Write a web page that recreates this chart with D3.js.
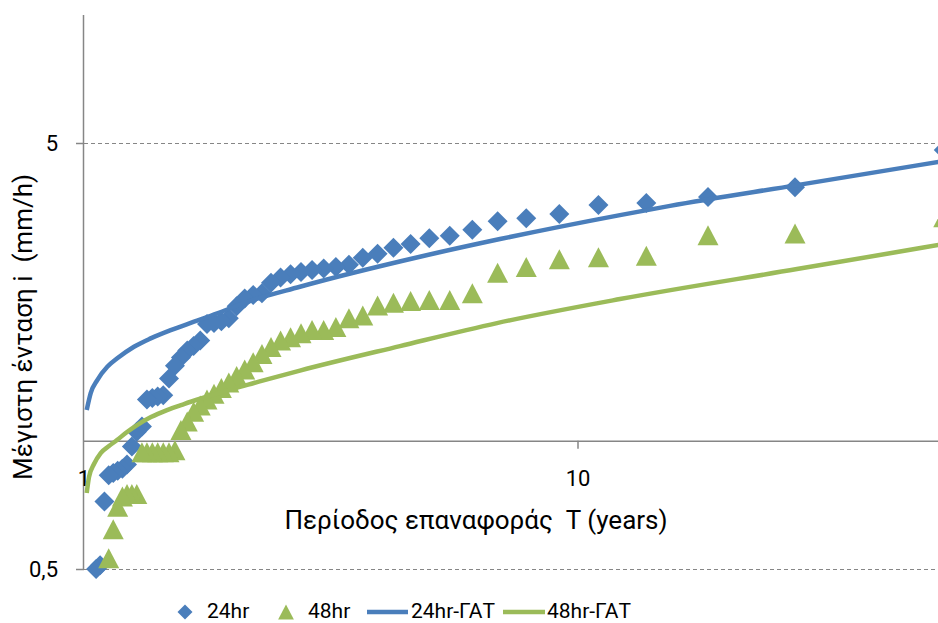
<!DOCTYPE html>
<html>
<head>
<meta charset="utf-8">
<script src="https://cdn.jsdelivr.net/npm/d3@7"></script>
<style>
  html, body { margin: 0; padding: 0; background: #fff; }
  svg { display: block; font-family: Roboto, "Open Sans", "Noto Sans", sans-serif; }
  text { white-space: pre; }
</style>
</head>
<body>
<svg id="chart" width="938" height="623"></svg>
<script>
// Return period T (years) for each rank
const returnPeriods = [55, 27.5, 18.33, 13.75, 11, 9.167, 7.857, 6.875, 6.111, 5.5, 5, 4.583, 4.231,
  3.929, 3.667, 3.438, 3.235, 3.056, 2.895, 2.75, 2.619, 2.5, 2.391, 2.292, 2.2, 2.115, 2.037, 1.964,
  1.897, 1.833, 1.774, 1.719, 1.667, 1.618, 1.571, 1.528, 1.486, 1.447, 1.41, 1.375, 1.341, 1.31,
  1.279, 1.25, 1.222, 1.196, 1.17, 1.146, 1.122, 1.1, 1.078, 1.058];

// Observed max intensity (mm/h)
const i24 = [4.82, 3.94, 3.74, 3.62, 3.58, 3.41, 3.33, 3.28, 3.13, 3.03, 2.99, 2.90, 2.84, 2.75, 2.69,
  2.59, 2.56, 2.54, 2.52, 2.49, 2.46, 2.42, 2.35, 2.22, 2.20, 2.16, 2.07, 1.94, 1.91, 1.89, 1.88, 1.72,
  1.67, 1.63, 1.57, 1.50, 1.40, 1.28, 1.27, 1.26, 1.25, 1.08, 1.05, 0.97, 0.88, 0.86, 0.85, 0.84, 0.83,
  0.72, 0.51, 0.50];
const i48 = [3.35, 3.07, 3.04, 2.72, 2.70, 2.67, 2.56, 2.48, 2.22, 2.14, 2.14, 2.13, 2.11, 2.08, 1.97,
  1.94, 1.85, 1.82, 1.82, 1.79, 1.75, 1.72, 1.66, 1.60, 1.53, 1.47, 1.42, 1.37, 1.33, 1.29, 1.25, 1.21,
  1.17, 1.11, 1.06, 0.95, 0.94, 0.94, 0.94, 0.94, 0.94, 0.94, 0.75, 0.75, 0.75, 0.74, 0.70, 0.62, 0.53];

// Fitted curves (ΓΑΤ)
const gatT24 = [1.0127, 1.0317, 1.0639, 1.1147, 1.1678, 1.2624, 1.3646, 1.4982, 1.67, 1.861, 2.108,
  2.736, 4.787, 6.952, 12.16, 15.36, 27.75, 55];
const gat24 = [1.181, 1.295, 1.389, 1.492, 1.562, 1.663, 1.740, 1.820, 1.904, 1.992, 2.107,
  2.300, 2.705, 2.977, 3.389, 3.563, 3.986, 4.54];
const gatT48 = [1.0127, 1.0236, 1.0477, 1.0809, 1.1235, 1.1662, 1.2221, 1.2805, 1.3665, 1.4725, 1.5939,
  1.7251, 1.8588, 2.0123, 2.2085, 2.736, 4.362, 6.856, 12.16, 27.75, 55];
const gat48 = [0.754, 0.822, 0.882, 0.936, 0.972, 1.004, 1.049, 1.089, 1.137, 1.181, 1.220,
  1.257, 1.291, 1.327, 1.367, 1.462, 1.669, 1.890, 2.152, 2.531, 2.897];

const xTicks = [1, 10];
const xTickLabels = ["1", "10"];
const yTicks = [0.5, 5];
const yTickLabels = ["0,5", "5"];
const legendLabels = ["24hr", "48hr", "24hr-ΓΑΤ", "48hr-ΓΑΤ"];
const xTitle = "Περίοδος επαναφοράς  T (years)";
const yTitle = "Μέγιστη ένταση i  (mm/h)";

const BLUE = "#4a7ebb", GREEN = "#9bbb59", AXIS = "#868686";

const svg = d3.select("#chart");
const x = d3.scaleLog().domain([1, 100]).range([84, 1072]);
const y = d3.scaleLog().domain([0.5, 10]).range([569, 15]);
const xLeft = 84, xRight = 938;

// gridlines (dashed)
svg.append("g").selectAll("line").data(yTicks).join("line")
  .attr("x1", xLeft).attr("x2", xRight)
  .attr("y1", d => Math.round(y(d)) + 0.5).attr("y2", d => Math.round(y(d)) + 0.5)
  .attr("stroke", AXIS).attr("stroke-width", 1.2).attr("stroke-dasharray", "4,3");
// y tick marks
svg.append("g").selectAll("line").data(yTicks).join("line")
  .attr("x1", xLeft - 8).attr("x2", xLeft)
  .attr("y1", d => Math.round(y(d)) + 0.5).attr("y2", d => Math.round(y(d)) + 0.5)
  .attr("stroke", AXIS).attr("stroke-width", 1.5);

// y axis line
svg.append("line").attr("x1", xLeft - 0.5).attr("x2", xLeft - 0.5)
  .attr("y1", y(10)).attr("y2", y(0.5)).attr("stroke", AXIS).attr("stroke-width", 1.5);
// x axis line (crosses at 1)
svg.append("line").attr("x1", xLeft - 0.5).attr("x2", xRight)
  .attr("y1", y(1) + 0.5).attr("y2", y(1) + 0.5).attr("stroke", AXIS).attr("stroke-width", 1.5);
// x tick marks
svg.append("g").selectAll("line").data(xTicks.filter(d => d > 1)).join("line")
  .attr("x1", d => x(d)).attr("x2", d => x(d))
  .attr("y1", y(1)).attr("y2", y(1) + 8).attr("stroke", AXIS).attr("stroke-width", 1.5);

// tick labels
svg.append("g").selectAll("text").data(yTicks).join("text")
  .attr("x", 58).attr("y", d => y(d) + 8).attr("text-anchor", "end")
  .attr("font-size", 22).attr("fill", "#000")
  .text((d, i) => yTickLabels[i]);
svg.append("g").selectAll("text").data(xTicks).join("text")
  .attr("x", d => x(d)).attr("y", y(1) + 45).attr("text-anchor", "middle")
  .attr("font-size", 22).attr("fill", "#000")
  .text((d, i) => xTickLabels[i]);

// axis titles
svg.append("text").attr("x", 476).attr("y", 529).attr("text-anchor", "middle")
  .attr("font-size", 26).attr("fill", "#000").text(xTitle);
svg.append("text").attr("transform", "translate(32,327) rotate(-90)").attr("text-anchor", "middle")
  .attr("font-size", 26).attr("fill", "#000").text(yTitle);

const diamond = r => `M0,${-r}L${r},0L0,${r}L${-r},0Z`;
const triangle = r => `M0,${-r}L${r * 1.05},${r}L${-r * 1.05},${r}Z`;

// markers
const d24 = i24.map((v, k) => [returnPeriods[k], v]);
const d48 = i48.map((v, k) => [returnPeriods[k], v]);
svg.append("g").selectAll("path").data(d24).join("path")
  .attr("transform", d => `translate(${x(d[0])},${y(d[1])})`)
  .attr("d", diamond(10)).attr("fill", BLUE);
svg.append("g").selectAll("path").data(d48).join("path")
  .attr("transform", d => `translate(${x(d[0])},${y(d[1])})`)
  .attr("d", triangle(10)).attr("fill", GREEN);

// curves
const line = d3.line().x(d => x(d[0])).y(d => y(d[1])).curve(d3.curveMonotoneX);
svg.append("path").datum(gat24.map((v, k) => [gatT24[k], v]))
  .attr("d", line).attr("fill", "none").attr("stroke", BLUE).attr("stroke-width", 4.5);
svg.append("path").datum(gat48.map((v, k) => [gatT48[k], v]))
  .attr("d", line).attr("fill", "none").attr("stroke", GREEN).attr("stroke-width", 4.5);

// legend
const lg = svg.append("g");
const ly = 612;
lg.append("path").attr("transform", `translate(185,${ly})`).attr("d", diamond(7.5)).attr("fill", BLUE);
lg.append("path").attr("transform", `translate(286,${ly})`).attr("d", triangle(7.5)).attr("fill", GREEN);
lg.append("line").attr("x1", 367).attr("x2", 408).attr("y1", ly).attr("y2", ly)
  .attr("stroke", BLUE).attr("stroke-width", 4.5);
lg.append("line").attr("x1", 503).attr("x2", 545).attr("y1", ly).attr("y2", ly)
  .attr("stroke", GREEN).attr("stroke-width", 4.5);
const lx = [207, 308, 411, 547];
lg.selectAll("text").data(legendLabels).join("text")
  .attr("x", (d, i) => lx[i]).attr("y", 617.5).attr("font-size", 21).attr("fill", "#000")
  .text(d => d);
</script>
</body>
</html>
